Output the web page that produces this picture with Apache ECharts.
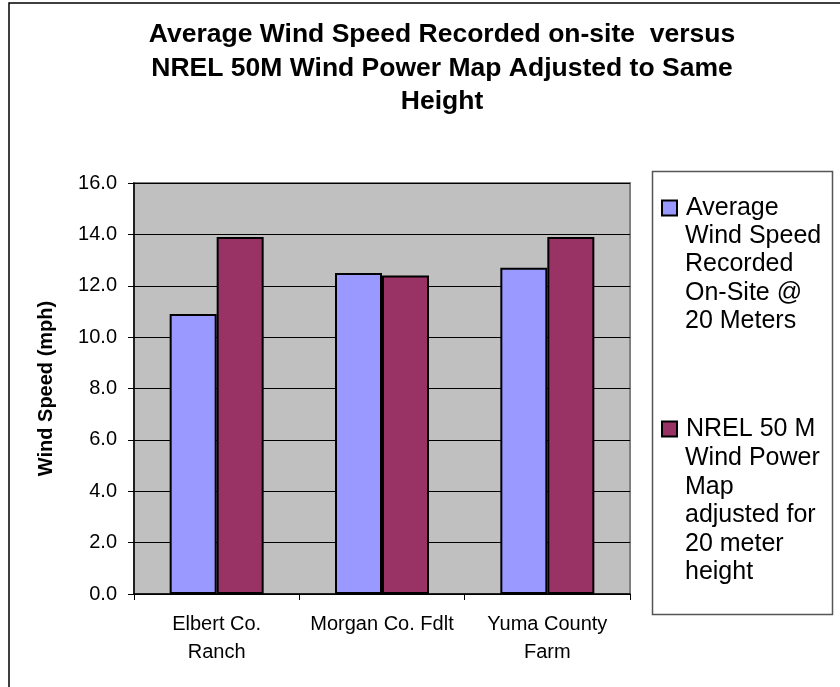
<!DOCTYPE html>
<html>
<head>
<meta charset="utf-8">
<script src="https://cdn.jsdelivr.net/npm/echarts@6/dist/echarts.min.js"></script>
<style>
html,body{margin:0;padding:0;background:#fff;}
#chart{width:840px;height:687px;}
</style>
</head>
<body>
<div id="chart"></div>
<script>
var categories = ['Elbert Co.\nRanch', 'Morgan Co. Fdlt', 'Yuma County\nFarm'];
var seriesNames = ['Average Wind Speed Recorded On-Site @ 20 Meters', 'NREL 50 M Wind Power Map adjusted for 20 meter height'];
var legendLines1 = ['Average', 'Wind Speed', 'Recorded', 'On-Site @', '20 Meters'];
var legendLines2 = ['NREL 50 M', 'Wind Power', 'Map', 'adjusted for', '20 meter', 'height'];
var onSiteValues = [10.9, 12.5, 12.7];
var nrelValues = [13.9, 12.4, 13.9];
var yMin = 0, yMax = 16, yInterval = 2;
var titleText = 'Average Wind Speed Recorded on-site  versus\nNREL 50M Wind Power Map Adjusted to Same\nHeight';
var yAxisTitle = 'Wind Speed (mph)';

var font = 'Arial, "Liberation Sans", sans-serif';
var chart = echarts.init(document.getElementById('chart'), null, {renderer: 'canvas'});
var firstLines = {};
firstLines[seriesNames[0]] = legendLines1[0];
firstLines[seriesNames[1]] = legendLines2[0];

chart.setOption({
  animation: false,
  backgroundColor: '#ffffff',
  title: {
    text: titleText,
    left: 442,
    textAlign: 'center',
    top: 18,
    padding: 0,
    textStyle: {fontFamily: font, fontSize: 26.5, fontWeight: 'bold', color: '#000', lineHeight: 33.5}
  },
  grid: {
    left: 134, right: 210, top: 183, bottom: 93,
    show: true, backgroundColor: '#C0C0C0', borderColor: '#808080', borderWidth: 2
  },
  legend: {
    orient: 'vertical',
    left: 661, top: 194,
    padding: 0,
    itemWidth: 15, itemHeight: 15, itemGap: 193,
    icon: 'rect',
    formatter: function (n) { return firstLines[n]; },
    textStyle: {fontFamily: font, fontSize: 25, color: '#000', lineHeight: 28, padding: [0, 0, 0, 4]},
    data: seriesNames
  },
  xAxis: {
    type: 'category',
    data: categories,
    axisLine: {lineStyle: {color: '#000', width: 1.5}},
    axisTick: {show: true, length: 6, lineStyle: {color: '#000'}},
    axisLabel: {interval: 0, fontFamily: font, fontSize: 20, color: '#000', lineHeight: 28, margin: 16}
  },
  yAxis: {
    type: 'value',
    min: yMin, max: yMax, interval: yInterval,
    name: yAxisTitle,
    nameLocation: 'middle',
    nameGap: 78,
    nameTextStyle: {fontFamily: font, fontSize: 20, fontWeight: 'bold', color: '#000'},
    axisLine: {show: true, lineStyle: {color: '#000', width: 1.5}},
    axisTick: {show: true, length: 6, lineStyle: {color: '#000'}},
    axisLabel: {fontFamily: font, fontSize: 20, color: '#000', margin: 17,
      formatter: function (v) { return v.toFixed(1); }},
    splitLine: {show: true, lineStyle: {color: '#000', width: 1}}
  },
  series: [
    {
      name: seriesNames[0], type: 'bar', data: onSiteValues,
      barWidth: 47, barGap: '0%',
      itemStyle: {color: '#9999FF', borderColor: '#000', borderWidth: 2}
    },
    {
      name: seriesNames[1], type: 'bar', data: nrelValues,
      barWidth: 47, barGap: '0%',
      itemStyle: {color: '#993366', borderColor: '#000', borderWidth: 2}
    }
  ],
  graphic: [
    {type: 'rect', shape: {x: 9, y: 3, width: 900, height: 800}, style: {fill: 'none', stroke: '#000', lineWidth: 1.5}, silent: true},
    {type: 'rect', shape: {x: 652.5, y: 171.5, width: 180, height: 443}, style: {fill: 'none', stroke: '#555', lineWidth: 1.5}, silent: true},
    {type: 'text', left: 685, top: 222, style: {text: legendLines1.slice(1).join('\n'), font: '25px ' + font, fill: '#000', lineHeight: 28.3}},
    {type: 'text', left: 685, top: 444, style: {text: legendLines2.slice(1).join('\n'), font: '25px ' + font, fill: '#000', lineHeight: 28.5}}
  ]
});
</script>
</body>
</html>
